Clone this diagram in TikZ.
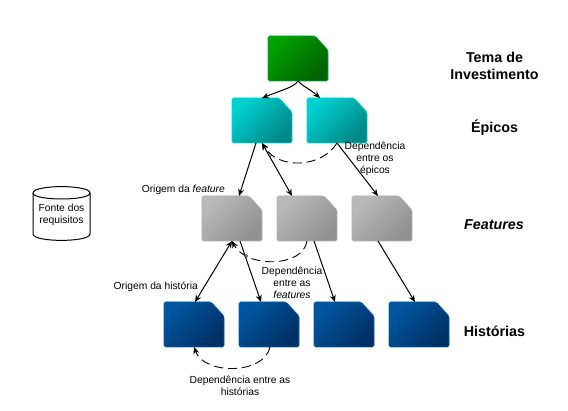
\documentclass[tikz,border=0pt]{standalone}
\usepackage{fontspec}
\setmainfont{Liberation Sans}
\usetikzlibrary{arrows.meta}
\definecolor{greenA}{RGB}{0,160,0}\definecolor{greenB}{RGB}{0,98,0}\definecolor{greenE}{RGB}{0,170,60}
\definecolor{cyanA}{RGB}{0,208,208}\definecolor{cyanB}{RGB}{0,135,135}\definecolor{cyanE}{RGB}{0,215,215}
\definecolor{greyA}{RGB}{185,185,185}\definecolor{greyB}{RGB}{145,145,145}\definecolor{greyE}{RGB}{175,175,175}
\definecolor{blueA}{RGB}{0,85,160}\definecolor{blueB}{RGB}{0,48,100}\definecolor{blueE}{RGB}{0,95,170}
\tikzset{
 x=1pt,y=-1pt,
 anchorbox/.style={minimum width=60pt,minimum height=45pt,inner sep=0pt,outer sep=0pt},
 link/.style={line width=1pt,black},
 headend/.style={-{Stealth[length=7pt,width=6pt]}},
 headboth/.style={{Stealth[length=7pt,width=6pt]}-{Stealth[length=7pt,width=6pt]}},
 dep/.style={line width=0.9pt,black,dash pattern=on 9pt off 5pt},
 lab/.style={font=\fontsize{10.3}{12.2}\selectfont,align=center,inner sep=0pt},
 level/.style={font=\fontsize{14.3}{17}\selectfont\bfseries,align=center,inner sep=0pt},
}
\newcommand{\docbox}[4]{%
 \shade[top color=#4A,bottom color=#4B,shading angle=45,draw=#4E,line width=0.6pt,rounded corners=1.5pt]
   (#2,#3) -- ++(47,0) -- ++(13,14) -- ++(0,31) -- ++(-60,0) -- cycle;
 \node[anchorbox] (#1) at (#2+30,#3+22.5) {};
}
\begin{document}
\begin{tikzpicture}
\useasboundingbox (0,0) rectangle (568,411);
\docbox{tema}{268}{36}{green}
\docbox{ep1}{232}{98}{cyan}
\docbox{ep2}{307}{98}{cyan}
\docbox{fe1}{202}{196}{grey}
\docbox{fe2}{277}{196}{grey}
\docbox{fe3}{352}{196}{grey}
\docbox{hi1}{164}{302}{blue}
\docbox{hi2}{239}{302}{blue}
\docbox{hi3}{314}{302}{blue}
\docbox{hi4}{389}{302}{blue}
% connectors
\coordinate (temaOut) at (tema.south);
\draw[link,headend] (temaOut) .. controls (294,87) and (285,89) .. (ep1.north);
\draw[link,headend] (temaOut) .. controls (302,86) and (310,89) .. ([xshift=13pt]ep2.north west);
\draw[link,headend] ([xshift=24pt]ep1.south west) -- ([xshift=37pt]fe1.north west);
\draw[link,headboth] ([xshift=30pt]ep1.south west) -- ([xshift=15pt]fe2.north west);
\draw[link,headend] ([xshift=30pt]ep2.south west) -- ([xshift=26pt]fe3.north west);
\draw[dep,-{Stealth[length=7pt,width=6pt]}] ([xshift=30pt]ep2.south west) .. controls (322,168) and (278,170) .. ([xshift=30pt]ep1.south west);
\draw[link,headboth] ([xshift=30pt]fe1.south west) -- ([xshift=31pt]hi1.north west);
\draw[link,headend] ([xshift=38pt]fe1.south west) -- ([xshift=22pt]hi2.north west);
\draw[link,headend] ([xshift=37pt]fe2.south west) -- ([xshift=21pt]hi3.north west);
\draw[link,headend] ([xshift=26pt]fe3.south west) -- ([xshift=26pt]hi4.north west);
\draw[dep,-{Stealth[length=7pt,width=6pt]}] ([xshift=30pt]fe2.south west) .. controls (303,268) and (246,268) .. ([xshift=30pt]fe1.south west);
\draw[dep,-{Stealth[length=7pt,width=6pt]}] ([xshift=31pt]hi2.south west) .. controls (264,375) and (204,375) .. ([xshift=30pt]hi1.south west);
\node[circle,draw=black,fill=white,line width=0.5pt,minimum size=3pt,inner sep=0pt] (m1) at (270,155) {};
\node[circle,draw=black,fill=white,line width=0.5pt,minimum size=3pt,inner sep=0pt] (m2) at (246,256) {};
% cylinder
\draw[black,line width=1pt,fill=white] (33,193) .. controls (33,184.5) and (90,184.5) .. (90,193)
  -- (90,234) .. controls (90,242.5) and (33,242.5) .. (33,234) -- cycle;
\draw[black,line width=1pt] (33,193) .. controls (33,201) and (90,201) .. (90,193);
\node[lab] (src) at (61.5,215) {Fonte dos\\requisitos};
% labels
\node[lab] (l1) at (375,159) {Dependência\\entre os\\épicos};
\node[lab,anchor=east] (l2) at (225,190) {Origem da \textit{feature}};
\node[lab,anchor=east] (l3) at (198,287) {Origem da história};
\node[lab] (l4) at (292,283) {Dependência\\entre as\\\textit{features}};
\node[lab] (l5) at (240,386) {Dependência entre as\\histórias};
\node[level] (t1) at (494.5,65.5) {Tema de\\Investimento};
\node[level] (t2) at (494.5,127.5) {Épicos};
\node[level,font=\fontsize{14.3}{17}\selectfont\bfseries\itshape] (t3) at (494,225) {Features};
\node[level] (t4) at (494.5,331) {Histórias};
\end{tikzpicture}
\end{document}
